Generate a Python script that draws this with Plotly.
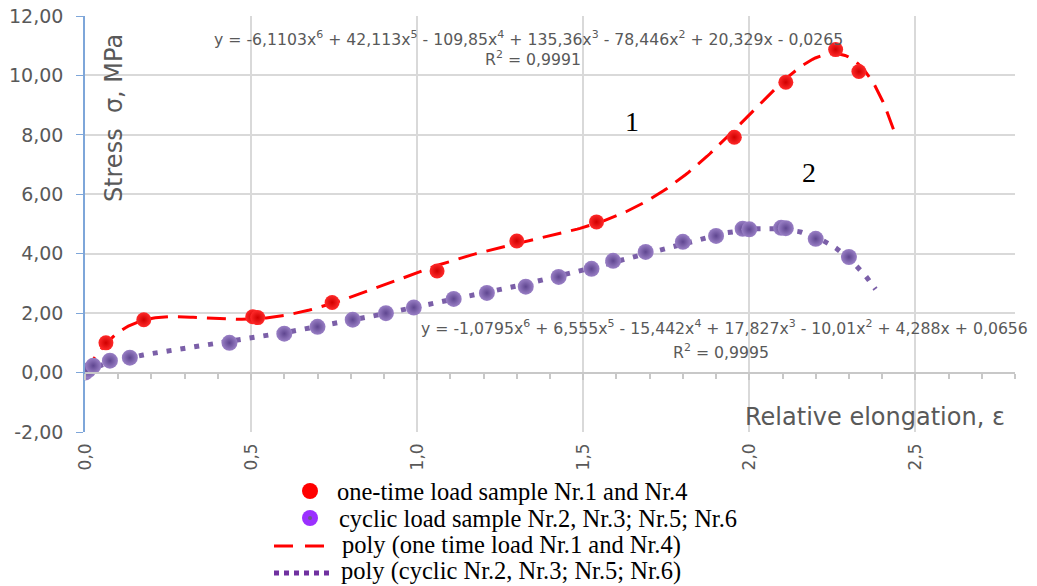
import numpy as np
import plotly.graph_objects as go

# ---- data ----
one_time_x = [0.0, 0.063, 0.177, 0.505, 0.52, 0.744, 1.06, 1.30, 1.54, 1.955, 2.11, 2.26, 2.33]
one_time_y = [0.0, 1.00, 1.78, 1.88, 1.85, 2.36, 3.42, 4.43, 5.07, 7.92, 9.77, 10.87, 10.13]

cyclic_x = [0.0, 0.01, 0.025, 0.075, 0.135, 0.435, 0.60, 0.70, 0.806, 0.906, 0.99, 1.11,
            1.21, 1.327, 1.426, 1.525, 1.59, 1.688, 1.80, 1.90, 1.98, 2.0, 2.096, 2.11,
            2.20, 2.30]
cyclic_y = [0.0, 0.08, 0.23, 0.40, 0.50, 1.0, 1.31, 1.54, 1.78, 2.0, 2.19, 2.48,
            2.68, 2.89, 3.22, 3.49, 3.76, 4.06, 4.40, 4.60, 4.84, 4.82, 4.87, 4.86,
            4.50, 3.89]

# trendline coefficients as displayed (highest power first)
one_time_coef = [-6.1103, 42.113, -109.85, 135.36, -78.446, 20.329, -0.0265]
cyclic_coef = [-1.0795, 6.555, -15.442, 17.827, -10.01, 4.288, 0.0656]
one_time_fit_end = 2.435
cyclic_fit_end = 2.38

x_ticks = [0.0, 0.5, 1.0, 1.5, 2.0, 2.5]
y_ticks = [-2, 0, 2, 4, 6, 8, 10, 12]
y_tick_labels = ["-2,00", "0,00", "2,00", "4,00", "6,00", "8,00", "10,00", "12,00"]

legend_names = ["one-time load sample Nr.1 and Nr.4",
                "cyclic load sample Nr.2, Nr.3; Nr.5; Nr.6",
                "poly (one time load Nr.1 and Nr.4)",
                "poly (cyclic Nr.2, Nr.3; Nr.5; Nr.6)"]

eq1 = ("y = -6,1103x<sup>6</sup> + 42,113x<sup>5</sup> - 109,85x<sup>4</sup> + 135,36x<sup>3</sup>"
       " - 78,446x<sup>2</sup> + 20,329x - 0,0265")
r1 = "R<sup>2</sup> = 0,9991"
eq2 = ("y = -1,0795x<sup>6</sup> + 6,555x<sup>5</sup> - 15,442x<sup>4</sup> + 17,827x<sup>3</sup>"
       " - 10,01x<sup>2</sup> + 4,288x + 0,0656")
r2 = "R<sup>2</sup> = 0,9995"

# ---- trendline evaluation ----
xf1 = np.linspace(0, one_time_fit_end, 300)
yf1 = np.polyval(one_time_coef, xf1)
xf2 = np.linspace(0, cyclic_fit_end, 300)
yf2 = np.polyval(cyclic_coef, xf2)

RED = "#ff0000"
PURPLE = "#7b5fa8"
GREY = "#595959"
GRID = "#d9d9d9"
SANS = "DejaVu Sans"
SERIF = "Liberation Serif"

# body margin is removed in the page (see post_script), figure fills the window
W, H = 1037, 586
ML, MR, MT, MB = 85, 22, 16, 154
PW, PH = W - ML - MR, H - MT - MB


def px(xp):
    return (xp - ML) / PW


def py(yp):
    return (H - MB - yp) / PH


fig = go.Figure()

fig.add_trace(go.Scatter(
    x=xf1, y=yf1, mode="lines", name=legend_names[2], showlegend=False,
    line=dict(color=RED, width=3, dash="19px,10px"), hoverinfo="skip"))
fig.add_trace(go.Scatter(
    x=xf2, y=yf2, mode="lines", name=legend_names[3], showlegend=False,
    line=dict(color=PURPLE, width=5, dash="5px,9px"), hoverinfo="skip"))

fig.add_trace(go.Scatter(
    x=one_time_x, y=one_time_y, mode="markers", name=legend_names[0], showlegend=False,
    marker=dict(color="#ff2a2a", size=15, gradient=dict(type="radial", color="#d00000"),
                line=dict(width=0))))
fig.add_trace(go.Scatter(
    x=cyclic_x, y=cyclic_y, mode="markers", name=legend_names[1], showlegend=False,
    marker=dict(color="#9a80c6", size=16, gradient=dict(type="radial", color="#5f4690"),
                line=dict(width=0))))

# invisible trace to host the crossing x axis at y=0
fig.add_trace(go.Scatter(x=[0], y=[None], xaxis="x2", yaxis="y", showlegend=False,
                         hoverinfo="skip", mode="markers"))

EQ_SIZE = 15.7
ann = []
ann.append(dict(x=1.336, y=11.24, text=eq1, showarrow=False, xanchor="center",
                font=dict(family=SANS, size=EQ_SIZE, color=GREY)))
ann.append(dict(x=1.35, y=10.57, text=r1, showarrow=False, xanchor="center",
                font=dict(family=SANS, size=EQ_SIZE, color=GREY)))
ann.append(dict(x=1.925, y=1.51, text=eq2, showarrow=False, xanchor="center",
                font=dict(family=SANS, size=EQ_SIZE, color=GREY)))
ann.append(dict(x=1.915, y=0.72, text=r2, showarrow=False, xanchor="center",
                font=dict(family=SANS, size=EQ_SIZE, color=GREY)))
ann.append(dict(x=1.646, y=8.46, text="1", showarrow=False,
                font=dict(family=SERIF, size=28, color="black")))
ann.append(dict(x=2.18, y=6.72, text="2", showarrow=False,
                font=dict(family=SERIF, size=28, color="black")))
ann.append(dict(x=0.087, y=8.56, text="Stress  σ, MPa", textangle=-90, showarrow=False,
                font=dict(family=SANS, size=24, color=GREY)))
ann.append(dict(x=2.775, y=-1.48, text="Relative elongation, ε", xanchor="right",
                showarrow=False, font=dict(family=SANS, size=24, color=GREY)))

# ---- manual legend ----
rows_y = [491, 518, 545, 571]
text_x = [335, 337, 340, 339]
for name, ry, tx in zip(legend_names, rows_y, text_x):
    ann.append(dict(xref="paper", yref="paper", x=px(tx), y=py(ry), text=name,
                    xanchor="left", yanchor="middle", showarrow=False,
                    font=dict(family=SERIF, size=24.5, color="black")))

shapes = []
r = 8
shapes.append(dict(type="circle", xref="paper", yref="paper",
                   x0=px(310 - r), x1=px(310 + r), y0=py(491 + r), y1=py(491 - r),
                   fillcolor="#ff0000", line=dict(width=0)))
shapes.append(dict(type="circle", xref="paper", yref="paper",
                   x0=px(310 - r), x1=px(310 + r), y0=py(518 + r), y1=py(518 - r),
                   fillcolor="#9b30ff", line=dict(width=0)))
shapes.append(dict(type="circle", xref="paper", yref="paper",
                   x0=px(308), x1=px(312), y0=py(520), y1=py(516),
                   fillcolor="#6b5a8a", line=dict(width=0)))
shapes.append(dict(type="line", xref="paper", yref="paper",
                   x0=px(274), x1=px(328), y0=py(546), y1=py(546),
                   line=dict(color=RED, width=3, dash="19px,12px")))
shapes.append(dict(type="line", xref="paper", yref="paper",
                   x0=px(274), x1=px(331), y0=py(573), y1=py(573),
                   line=dict(color="#7030a0", width=5, dash="5px,5px")))

fig.update_layout(
    width=W, height=H,
    margin=dict(l=ML, r=MR, t=MT, b=MB, autoexpand=False),
    paper_bgcolor="white", plot_bgcolor="white",
    separators=", ",
    annotations=ann,
    shapes=shapes,
    showlegend=False,
    xaxis=dict(range=[0, 2.8], tickvals=x_ticks, tickformat=".1f", tickangle=-90,
               showgrid=True, gridcolor=GRID, gridwidth=1.5, zeroline=False,
               showline=False, ticks="", ticklabelstandoff=7, automargin=False,
               ticklabeloverflow="allow",
               tickfont=dict(family=SANS, size=17, color=GREY)),
    xaxis2=dict(range=[0, 2.8], overlaying="x", anchor="free", position=2/14,
                side="bottom", showgrid=False, zeroline=False, showline=True,
                linecolor="#c8c8c8", linewidth=2, ticks="outside", ticklen=6,
                tickcolor="#c8c8c8", tickwidth=1.5, dtick=0.5, showticklabels=False,
                automargin=False,
                minor=dict(dtick=0.1, ticks="outside", ticklen=5, tickcolor="#c8c8c8",
                           tickwidth=1.5)),
    yaxis=dict(range=[-2, 12], tickvals=y_ticks, ticktext=y_tick_labels,
               showgrid=True, gridcolor=GRID, gridwidth=1.5, zeroline=False,
               showline=True, linecolor="#7ea6d9", linewidth=1.5, automargin=False,
               ticks="outside", ticklen=7, tickcolor="#7ea6d9", ticklabelstandoff=9,
               ticklabeloverflow="allow",
               tickfont=dict(family=SANS, size=19, color=GREY)),
)

fig.write_html("out.html",
               config={"displayModeBar": False},
               post_script="document.body.style.margin='0px';"
                           "document.body.style.overflow='hidden';")
